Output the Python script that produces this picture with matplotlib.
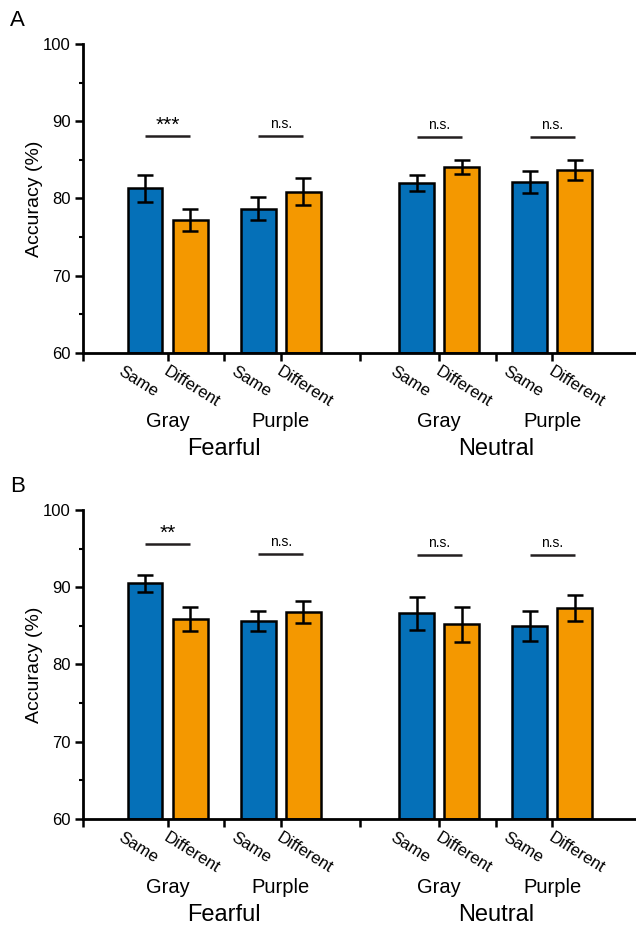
import numpy as np
import matplotlib
matplotlib.use("Agg")
import matplotlib.pyplot as plt

plt.rcParams['font.family'] = ['Liberation Sans', 'DejaVu Sans']

conditions = ['Same', 'Different', 'Same', 'Different', 'Same', 'Different', 'Same', 'Different']
colours = ['Gray', 'Purple', 'Gray', 'Purple']
emotions = ['Fearful', 'Neutral']

# panel A
acc_a = [81.3, 77.2, 78.7, 80.9, 82.0, 84.1, 82.1, 83.7]
err_a = [1.7, 1.4, 1.5, 1.7, 1.0, 0.9, 1.4, 1.3]
sig_a = ['***', 'n.s.', 'n.s.', 'n.s.']
sig_y_a = [88.1, 88.1, 88.0, 88.0]

# panel B
acc_b = [90.5, 85.9, 85.6, 86.8, 86.6, 85.2, 85.0, 87.3]
err_b = [1.1, 1.6, 1.3, 1.4, 2.1, 2.3, 1.9, 1.7]
sig_b = ['**', 'n.s.', 'n.s.', 'n.s.']
sig_y_b = [95.6, 94.3, 94.2, 94.2]

blue = '#0570b8'
orange = '#f49800'
pos = np.array([0, 1, 2.5, 3.5, 6, 7, 8.5, 9.5])
xmin = -1.37
xmax = 10.85


def draw_panel(ax, acc, err, sig, sig_y):
    cols = [blue, orange] * 4
    ax.bar(pos, np.array(acc) - 60, bottom=60, width=0.77, color=cols,
           edgecolor='black', linewidth=1.8, zorder=2)
    ax.errorbar(pos, acc, yerr=err, fmt='none', ecolor='black',
                elinewidth=1.8, capsize=6, capthick=1.8, zorder=3)
    ax.set_xlim(xmin, xmax)
    ax.set_ylim(60, 100)
    ax.set_yticks([60, 70, 80, 90, 100])
    ax.set_yticks([65, 75, 85, 95], minor=True)
    ticks = [xmin] + list((pos[:-1] + pos[1:]) / 2)
    ax.set_xticks(ticks)
    ax.set_xticklabels([])
    ax.tick_params(axis='x', direction='out', length=6, width=1.8)
    ax.tick_params(axis='y', which='major', direction='out', length=6, width=1.8,
                   labelsize=12, pad=3)
    ax.tick_params(axis='y', which='minor', direction='out', length=3, width=1.5)
    for s in ['top', 'right']:
        ax.spines[s].set_visible(False)
    for s in ['left', 'bottom']:
        ax.spines[s].set_linewidth(2.0)
    ax.set_ylabel('Accuracy (%)', fontsize=14, labelpad=0)

    # significance lines
    for i in range(4):
        x0, x1 = pos[2 * i], pos[2 * i + 1]
        ax.plot([x0, x1], [sig_y[i], sig_y[i]], color='#231f20', lw=1.8,
                solid_capstyle='butt', clip_on=False)
        if sig[i] == 'n.s.':
            ax.text((x0 + x1) / 2, sig_y[i] + 0.6, sig[i], ha='center',
                    va='bottom', fontsize=10)
        else:
            ax.text((x0 + x1) / 2, sig_y[i] + 0.2, sig[i], ha='center',
                    va='bottom', fontsize=15)

    # category labels
    for i, c in enumerate(conditions):
        ax.annotate(c, xy=(pos[i] - 0.47, 60), xytext=(0, -8),
                    textcoords='offset points', xycoords='data',
                    rotation=-32, rotation_mode='anchor', ha='left', va='top',
                    fontsize=12, annotation_clip=False)
    for j, c in enumerate(colours):
        xm = (pos[2 * j] + pos[2 * j + 1]) / 2
        ax.annotate(c, xy=(xm, 60), xytext=(0, -49), textcoords='offset points',
                    ha='center', va='center', fontsize=14.5, annotation_clip=False)
    for k, e in enumerate(emotions):
        xm = (pos[4 * k] + pos[4 * k + 3]) / 2
        ax.annotate(e, xy=(xm, 60), xytext=(0, -69), textcoords='offset points',
                    ha='center', va='center', fontsize=17, annotation_clip=False)


fig = plt.figure(figsize=(6.36, 9.26), dpi=100)
ax1 = fig.add_axes([0.1305, 0.6188, 0.8695, 0.3337])
ax2 = fig.add_axes([0.1305, 0.1156, 0.8695, 0.3337])
draw_panel(ax1, acc_a, err_a, sig_a, sig_y_a)
draw_panel(ax2, acc_b, err_b, sig_b, sig_y_b)
fig.text(0.028, 0.978, 'A', fontsize=16, ha='center', va='center')
fig.text(0.028, 0.475, 'B', fontsize=16, ha='center', va='center')

fig.savefig('out.png', dpi=100)
